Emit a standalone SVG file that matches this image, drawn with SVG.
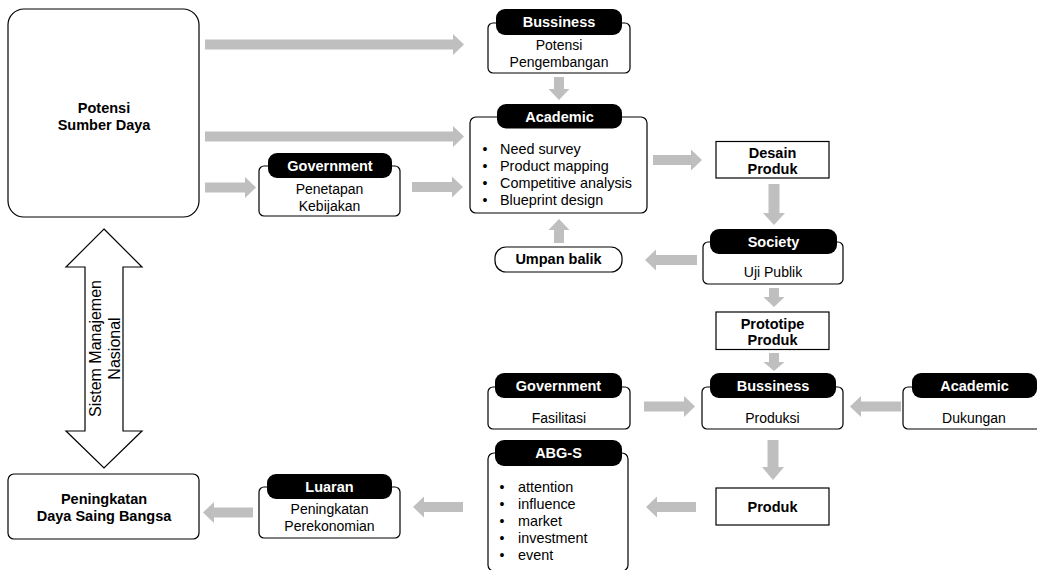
<svg xmlns="http://www.w3.org/2000/svg" width="1037" height="570" viewBox="0 0 1037 570">
<style>
.box{fill:#fff;stroke:#000;stroke-width:1.2}
.hdr{fill:#000}
.ht{font-family:"Liberation Sans",Arial,sans-serif;font-size:14.5px;font-weight:bold;fill:#fff;text-anchor:middle}
.bt{font-family:"Liberation Sans",Arial,sans-serif;font-size:14.5px;font-weight:bold;fill:#000;text-anchor:middle}
.t{font-family:"Liberation Sans",Arial,sans-serif;font-size:14px;fill:#000;text-anchor:middle}
.tl{font-family:"Liberation Sans",Arial,sans-serif;font-size:14.4px;fill:#000}
.rt{font-family:"Liberation Sans",Arial,sans-serif;font-size:16px;fill:#000;text-anchor:middle}
.arr{fill:#BFBFBF}
</style>
<rect width="1037" height="570" fill="#fff"/>

<g id="connectors">
  <polygon class="arr" points="205,39.5 453,39.5 453,34 464,44.5 453,55 453,49.5 205,49.5"/>
  <polygon class="arr" points="205,131.5 453,131.5 453,126 464,136.5 453,147 453,141.5 205,141.5"/>
  <polygon class="arr" points="205,182.5 245,182.5 245,177 256,187.5 245,198 245,192.5 205,192.5"/>
  <polygon class="arr" points="412,182 452,182 452,176.5 463,187 452,197.5 452,192 412,192"/>
  <polygon class="arr" points="653,155 691,155 691,149.5 702,160 691,170.5 691,165 653,165"/>
  <polygon class="arr" points="644,401.5 684,401.5 684,396 695,406.5 684,417 684,411.5 644,411.5"/>
  <polygon class="arr" points="697,255 656,255 656,249.5 645,260 656,270.5 656,265 697,265"/>
  <polygon class="arr" points="901,401.5 861,401.5 861,396 850,406.5 861,417 861,411.5 901,411.5"/>
  <polygon class="arr" points="696,502 657,502 657,496.5 646,507 657,517.5 657,512 696,512"/>
  <polygon class="arr" points="463,502 424,502 424,496.5 413,507 424,517.5 424,512 463,512"/>
  <polygon class="arr" points="253,507.5 214,507.5 214,502 203,512.5 214,523 214,517.5 253,517.5"/>
  <polygon class="arr" points="554,77 564,77 564,89 569.5,89 559,100 548.5,89 554,89"/>
  <polygon class="arr" points="768.5,184 779.5,184 779.5,213 785,213 774,225 763,213 768.5,213"/>
  <polygon class="arr" points="769,288 779,288 779,297 784.5,297 774,307 763.5,297 769,297"/>
  <polygon class="arr" points="769,353 779,353 779,362 784.5,362 774,371 763.5,362 769,362"/>
  <polygon class="arr" points="767.5,440 778.5,440 778.5,467 784,467 773,480 762,467 767.5,467"/>
  <polygon class="arr" points="554,243 564,243 564,230 569.5,230 559,219 548.5,230 554,230"/>
  <path d="M104,229 L142,267 L123,267 L123,431 L142,431 L104,468 L66,431 L85,431 L85,267 L66,267 Z" fill="#fff" stroke="#000" stroke-width="1.2"/>
  <text class="rt" transform="translate(101,348.5) rotate(-90)">Sistem Manajemen</text>
  <text class="rt" transform="translate(119.5,348.5) rotate(-90)">Nasional</text>
</g>

<g id="potensi-sumber-daya">
  <rect class="box" x="8" y="9" width="191" height="208" rx="16"/>
  <text class="bt" x="104" y="113">Potensi</text>
  <text class="bt" x="104" y="129.5">Sumber Daya</text>
</g>

<g id="bussiness-top">
  <rect class="box" x="488" y="23" width="142" height="50" rx="5"/>
  <rect class="hdr" x="496" y="9" width="126" height="26" rx="9"/>
  <text class="ht" x="559" y="27">Bussiness</text>
  <text class="t" x="559" y="49.5">Potensi</text>
  <text class="t" x="559" y="66.5">Pengembangan</text>
</g>

<g id="academic-top">
  <rect class="box" x="470" y="117" width="177" height="96" rx="6"/>
  <rect class="hdr" x="497" y="104" width="125" height="24.5" rx="9"/>
  <text class="ht" x="559.5" y="121.5">Academic</text>
  <text class="t" x="485" y="153.5">•</text>
  <text class="tl" x="500" y="153.5">Need survey</text>
  <text class="t" x="485" y="170.5">•</text>
  <text class="tl" x="500" y="170.5">Product mapping</text>
  <text class="t" x="485" y="188">•</text>
  <text class="tl" x="500" y="188">Competitive analysis</text>
  <text class="t" x="485" y="205">•</text>
  <text class="tl" x="500" y="205">Blueprint design</text>
</g>

<g id="government-top">
  <rect class="box" x="259" y="166" width="141" height="50" rx="5"/>
  <rect class="hdr" x="268" y="153" width="124" height="25" rx="9"/>
  <text class="ht" x="330" y="170.5">Government</text>
  <text class="t" x="329.5" y="194">Penetapan</text>
  <text class="t" x="329.5" y="211">Kebijakan</text>
</g>

<g id="desain-produk">
  <rect class="box" x="716" y="141.5" width="113" height="36.5"/>
  <text class="bt" x="772.5" y="157.5">Desain</text>
  <text class="bt" x="772.5" y="173.5">Produk</text>
</g>

<g id="umpan-balik">
  <rect class="box" x="495" y="247" width="127" height="25" rx="11"/>
  <text class="bt" x="558.5" y="263.5">Umpan balik</text>
</g>

<g id="society">
  <rect class="box" x="703" y="242" width="140" height="42" rx="5"/>
  <rect class="hdr" x="710" y="229" width="127" height="25" rx="9"/>
  <text class="ht" x="773.5" y="246.5">Society</text>
  <text class="t" x="773" y="277">Uji Publik</text>
</g>

<g id="prototipe-produk">
  <rect class="box" x="716" y="312" width="113" height="37.5"/>
  <text class="bt" x="772.5" y="329">Prototipe</text>
  <text class="bt" x="772.5" y="344.5">Produk</text>
</g>

<g id="government-bottom">
  <rect class="box" x="488" y="387" width="142" height="42" rx="5"/>
  <rect class="hdr" x="495" y="373" width="127" height="25" rx="9"/>
  <text class="ht" x="558.5" y="390.5">Government</text>
  <text class="t" x="559" y="422.5">Fasilitasi</text>
</g>

<g id="bussiness-bottom">
  <rect class="box" x="702" y="387" width="141" height="42" rx="5"/>
  <rect class="hdr" x="710" y="373" width="126" height="25" rx="9"/>
  <text class="ht" x="773" y="390.5">Bussiness</text>
  <text class="t" x="772.5" y="422.5">Produksi</text>
</g>

<g id="academic-bottom">
  <rect class="box" x="903" y="387" width="145" height="42" rx="5"/>
  <rect class="hdr" x="912" y="373" width="125" height="25" rx="9"/>
  <text class="ht" x="974.5" y="390.5">Academic</text>
  <text class="t" x="974" y="422.5">Dukungan</text>
</g>

<g id="produk">
  <rect class="box" x="716" y="488" width="113" height="37"/>
  <text class="bt" x="772.5" y="512">Produk</text>
</g>

<g id="abg-s">
  <rect class="box" x="488" y="453" width="140" height="118" rx="6"/>
  <rect class="hdr" x="495" y="440" width="127" height="26" rx="9"/>
  <text class="ht" x="558.5" y="458">ABG-S</text>
  <text class="t" x="502" y="491.7">•</text>
  <text class="tl" x="518" y="491.7">attention</text>
  <text class="t" x="502" y="508.8">•</text>
  <text class="tl" x="518" y="508.8">influence</text>
  <text class="t" x="502" y="525.9">•</text>
  <text class="tl" x="518" y="525.9">market</text>
  <text class="t" x="502" y="543">•</text>
  <text class="tl" x="518" y="543">investment</text>
  <text class="t" x="502" y="560.1">•</text>
  <text class="tl" x="518" y="560.1">event</text>
</g>

<g id="luaran">
  <rect class="box" x="259" y="487" width="141" height="51" rx="5"/>
  <rect class="hdr" x="267" y="474" width="125" height="25" rx="9"/>
  <text class="ht" x="329.5" y="491.5">Luaran</text>
  <text class="t" x="329.5" y="514">Peningkatan</text>
  <text class="t" x="329.5" y="531">Perekonomian</text>
</g>

<g id="peningkatan-daya-saing">
  <rect class="box" x="8" y="474" width="191" height="65" rx="6"/>
  <text class="bt" x="104" y="503.5">Peningkatan</text>
  <text class="bt" x="104" y="521">Daya Saing Bangsa</text>
</g>
</svg>
